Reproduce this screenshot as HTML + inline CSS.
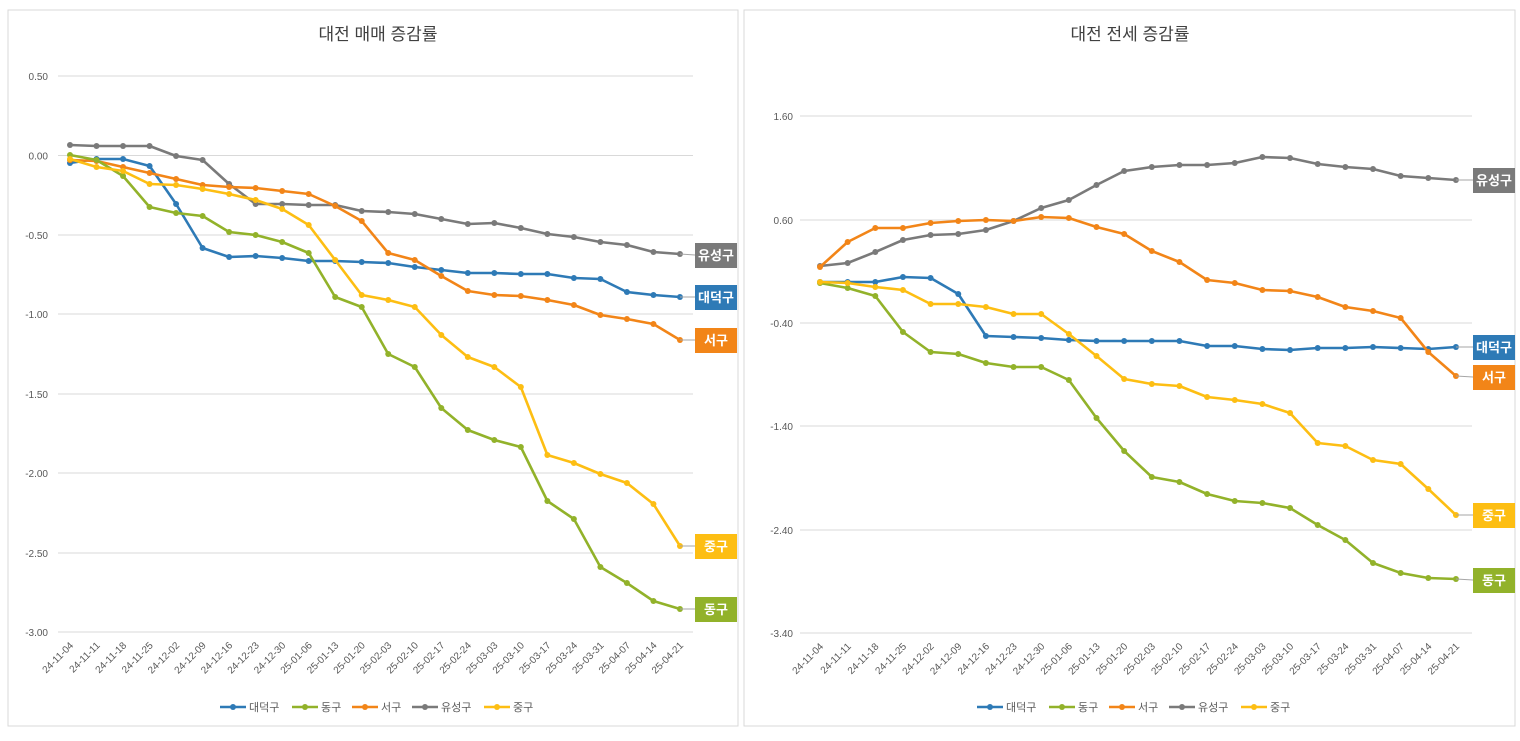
<!DOCTYPE html>
<html><head><meta charset="utf-8"><style>
body{margin:0;background:#fff;width:1520px;height:736px;overflow:hidden}
svg text{font-family:"Liberation Sans","Noto Sans CJK KR",sans-serif}
</style></head><body>
<svg id="s" width="1520" height="736" xmlns="http://www.w3.org/2000/svg"></svg>
<script>
const dates=["24-11-04","24-11-11","24-11-18","24-11-25","24-12-02","24-12-09","24-12-16","24-12-23","24-12-30","25-01-06","25-01-13","25-01-20","25-02-03","25-02-10","25-02-17","25-02-24","25-03-03","25-03-10","25-03-17","25-03-24","25-03-31","25-04-07","25-04-14","25-04-21"];
const C={b:"#2e7ab6",g:"#92b22a",o:"#f28518",k:"#7a7a7a",y:"#fdbe13"};
let h='';
function panel(o){
 h+=`<rect x="${o.px}" y="10" width="${o.pw}" height="716" fill="#fff" stroke="#d9d9d9"/>`;
 h+=`<text x="${o.tx}" y="40" font-size="17" fill="#404040" text-anchor="middle">${o.title}</text>`;
 o.grid.forEach(g=>{h+=`<line x1="${o.gx1}" x2="${o.gx2}" y1="${g[1]}" y2="${g[1]}" stroke="#d9d9d9"/>`;
  h+=`<text x="${o.lx}" y="${g[1]+4}" font-size="10" fill="#595959" text-anchor="end">${g[0]}</text>`;});
 dates.forEach((d,i)=>{const x=o.x0+o.dx*i;h+=`<text transform="translate(${x+4},${o.grid[o.grid.length-1][1]+14}) rotate(-45)" font-size="10" fill="#595959" text-anchor="end">${d}</text>`;});
 const order=[["b","대덕구"],["g","동구"],["o","서구"],["k","유성구"],["y","중구"]];
 ["k","b","o","g","y"].forEach(k=>{const ys=o.s[k];
  const pts=ys.map((y,i)=>(o.x0+o.dx*i).toFixed(1)+","+y).join(" ");
  h+=`<polyline points="${pts}" fill="none" stroke="${C[k]}" stroke-width="2.6" stroke-linejoin="round"/>`;
  ys.forEach((y,i)=>h+=`<circle cx="${o.x0+o.dx*i}" cy="${y}" r="3" fill="${C[k]}"/>`);});
 order.forEach(([k,n])=>{const L=o.lab[k];const lx=o.x0+o.dx*23;const ly=o.s[k][23];
  h+=`<line x1="${lx}" y1="${ly}" x2="${o.bx}" y2="${L+12}" stroke="#a6a6a6"/>`;
  h+=`<rect x="${o.bx}" y="${L}" width="42" height="25" fill="${C[k]}"/>`;
  h+=`<text x="${o.bx+21}" y="${L+17}" font-size="13" font-weight="bold" fill="#fff" text-anchor="middle">${n}</text>`;});
 let lx=o.legx;
 order.forEach(([k,n])=>{h+=`<line x1="${lx}" x2="${lx+26}" y1="707" y2="707" stroke="${C[k]}" stroke-width="2.6"/><circle cx="${lx+13}" cy="707" r="3" fill="${C[k]}"/>`;
  h+=`<text x="${lx+29}" y="711" font-size="11" fill="#595959">${n}</text>`;lx+=n.length==3?72:60;});
}
panel({px:8,pw:730,tx:378,title:"대전 매매 증감률",gx1:58,gx2:693,lx:48,x0:70,dx:26.52,bx:695,legx:220,
 grid:[["0.50",76],["0.00",155.5],["-0.50",235],["-1.00",314],["-1.50",394],["-2.00",473],["-2.50",553],["-3.00",632]],
 s:{k:[145,146,146,146,156,160,184,204,204,205,205,211,212,214,219,224,223,228,234,237,242,245,252,254],
 b:[163,159,159,166,204,248,257,256,258,261,261,262,263,267,270,273,273,274,274,278,279,292,295,297],
 g:[155,160,176,207,213,216,232,235,242,253,297,307,354,367,408,430,440,447,501,519,567,583,601,609],
 o:[160,161,167,173,179,185,187,188,191,194,206,221,253,260,276,291,295,296,300,305,315,319,324,340],
 y:[159,167,171,184,185,189,194,200,209,225,260,295,300,307,335,357,367,387,455,463,474,483,504,546]},
 lab:{k:243,b:285,o:328,y:534,g:597}});
panel({px:744,pw:771,tx:1130,title:"대전 전세 증감률",gx1:800,gx2:1472,lx:793,x0:820,dx:27.65,bx:1473,legx:977,
 grid:[["1.60",116],["0.60",220],["-0.40",323],["-1.40",426],["-2.40",530],["-3.40",633]],
 s:{k:[266,263,252,240,235,234,230,221,208,200,185,171,167,165,165,163,157,158,164,167,169,176,178,180],
 b:[282,282,282,277,278,294,336,337,338,340,341,341,341,341,346,346,349,350,348,348,347,348,349,347],
 g:[283,288,296,332,352,354,363,367,367,380,418,451,477,482,494,501,503,508,525,540,563,573,578,579],
 o:[267,242,228,228,223,221,220,221,217,218,227,234,251,262,280,283,290,291,297,307,311,318,352,376],
 y:[282,283,287,290,304,304,307,314,314,334,356,379,384,386,397,400,404,413,443,446,460,464,489,515]},
 lab:{k:168,b:335,o:365,y:503,g:568}});
document.getElementById('s').innerHTML=h;
</script>
</body></html>
